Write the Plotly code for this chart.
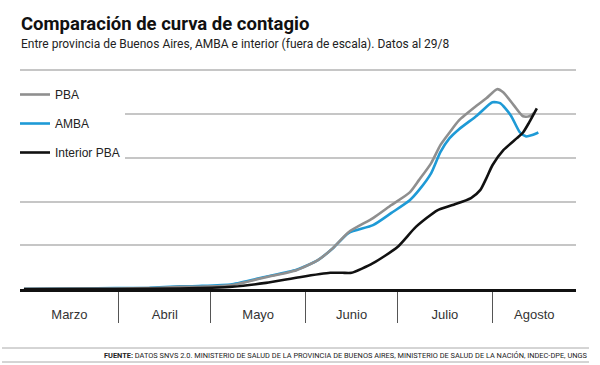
import plotly.graph_objects as go

# ---------------- data ----------------
pba_dates = ["2020-03-01", "2020-03-19", "2020-03-31", "2020-04-11", "2020-04-21", "2020-04-27",
             "2020-05-08", "2020-05-19", "2020-05-29", "2020-06-05", "2020-06-10", "2020-06-15",
             "2020-06-23", "2020-06-29", "2020-07-05", "2020-07-08", "2020-07-12", "2020-07-15",
             "2020-07-18", "2020-07-21", "2020-07-27", "2020-07-30", "2020-08-02 12:00",
             "2020-08-04 12:00", "2020-08-08", "2020-08-11", "2020-08-13", "2020-08-14 12:00"]
pba_values = [0.00, 0.01, 0.01, 0.02, 0.05, 0.05,
              0.09, 0.27, 0.43, 0.66, 0.94, 1.30,
              1.62, 1.92, 2.21, 2.49, 2.88, 3.29,
              3.58, 3.85, 4.20, 4.36, 4.57,
              4.50, 4.20, 3.95, 3.95, 4.02]

amba_dates = ["2020-03-01", "2020-03-19", "2020-03-31", "2020-04-11", "2020-04-21", "2020-04-27",
              "2020-05-08", "2020-05-19", "2020-05-29", "2020-06-05", "2020-06-10", "2020-06-15",
              "2020-06-23", "2020-06-29", "2020-07-05", "2020-07-08", "2020-07-12", "2020-07-15",
              "2020-07-18", "2020-07-21", "2020-07-27", "2020-08-01", "2020-08-03 12:00",
              "2020-08-07", "2020-08-10", "2020-08-12", "2020-08-14", "2020-08-16"]
amba_values = [0.00, 0.01, 0.02, 0.03, 0.06, 0.07,
               0.11, 0.28, 0.44, 0.66, 0.94, 1.28,
               1.46, 1.74, 2.03, 2.26, 2.65, 3.13,
               3.45, 3.65, 3.97, 4.27, 4.25,
               3.97, 3.58, 3.49, 3.52, 3.58]

interior_dates = ["2020-03-01", "2020-03-31", "2020-04-21", "2020-04-27", "2020-05-08", "2020-05-19",
                  "2020-05-30", "2020-06-09", "2020-06-13", "2020-06-16", "2020-06-23", "2020-07-01",
                  "2020-07-07", "2020-07-14", "2020-07-19", "2020-07-25", "2020-07-28", "2020-07-30",
                  "2020-08-01", "2020-08-04 12:00", "2020-08-09", "2020-08-11", "2020-08-13",
                  "2020-08-15 12:00"]
interior_values = [0.00, 0.00, 0.01, 0.02, 0.05, 0.14,
                   0.27, 0.37, 0.37, 0.37, 0.59, 0.96,
                   1.42, 1.80, 1.92, 2.08, 2.26, 2.53,
                   2.83, 3.17, 3.45, 3.58, 3.81,
                   4.13]

month_starts = ["2020-04-01", "2020-05-01", "2020-06-01", "2020-07-01", "2020-08-01"]
month_label_pos = ["2020-03-15 20:00", "2020-04-16", "2020-05-16 12:00", "2020-06-16",
                   "2020-07-16 12:00", "2020-08-14 16:00"]
month_labels = ["Marzo", "Abril", "Mayo", "Junio", "Julio", "Agosto"]
grid_values = [1, 2, 3, 4, 5]

# ---------------- layout helpers ----------------
W, H = 600, 365
ML, MR, MT, MB = 20, 24, 66, 76
PW, PH = W - ML - MR, H - MT - MB


def px_x(px):
    return (px - ML) / PW


def px_y(py):
    return (H - MB - py) / PH


TITLE_FONT = "Roboto, Lato, Liberation Sans, sans-serif"
SANS = "Liberation Sans, Arial, Helvetica, sans-serif"

fig = go.Figure()
# drawing order: AMBA underneath PBA, Interior on top; legend order kept by legendrank
series = [
    ("AMBA", amba_dates, amba_values, "#1e9ad6", 2),
    ("PBA", pba_dates, pba_values, "#8f8f8f", 1),
    ("Interior PBA", interior_dates, interior_values, "#111111", 3),
]
for name, xs, ys, col, rank in series:
    fig.add_trace(go.Scatter(
        x=xs, y=ys, name=name, mode="lines", legendgroup=name, legendrank=rank,
        line=dict(color=col, width=2.6, shape="spline", smoothing=0.6),
    ))

fig.update_layout(
    width=W, height=H,
    margin=dict(l=ML, r=MR, t=MT, b=MB),
    paper_bgcolor="white", plot_bgcolor="white",
    showlegend=True,
    legend=dict(
        x=px_x(15), y=px_y(80), xanchor="left", yanchor="top",
        bgcolor="white", borderwidth=0,
        font=dict(family=SANS, size=12, color="#222"),
        tracegroupgap=10, itemwidth=30, traceorder="grouped",
    ),
    xaxis=dict(
        type="date",
        range=["2020-02-28 17:00", "2020-08-28 07:00"],
        tickmode="array", tickvals=month_label_pos, ticktext=month_labels,
        ticks="outside", ticklen=12, tickcolor="rgba(0,0,0,0)",
        tickfont=dict(family=SANS, size=13, color="#333"),
        showgrid=False, zeroline=False,
        showline=True, linecolor="#111", linewidth=2.5,
        minor=dict(tickmode="array", tickvals=month_starts, ticks="outside",
                   ticklen=31, tickcolor="#555", tickwidth=1, showgrid=False),
        fixedrange=True,
    ),
    yaxis=dict(
        range=[0, 5.1],
        tickmode="array", tickvals=grid_values,
        showticklabels=False, ticks="",
        showgrid=True, gridcolor="#c6c6c6", gridwidth=1.5,
        zeroline=False, showline=False, fixedrange=True,
    ),
    annotations=[
        dict(text="<b>Comparación de curva de contagio</b>", xref="paper", yref="paper",
             x=px_x(19), y=px_y(24), xanchor="left", yanchor="middle", showarrow=False,
             font=dict(family=TITLE_FONT, size=18.5, color="#111")),
        dict(text="Entre provincia de Buenos Aires, AMBA e interior (fuera de escala). Datos al 29/8",
             xref="paper", yref="paper", x=px_x(19), y=px_y(44), xanchor="left", yanchor="middle",
             showarrow=False, font=dict(family=TITLE_FONT, size=12, color="#222")),
        dict(text="<b>FUENTE:</b> DATOS SNVS 2.0. MINISTERIO DE SALUD DE LA PROVINCIA DE BUENOS AIRES, "
                  "MINISTERIO DE SALUD DE LA NACIÓN, INDEC-DPE, UNGS",
             xref="paper", yref="paper", x=px_x(589), y=px_y(355), xanchor="right", yanchor="middle",
             showarrow=False, font=dict(family=TITLE_FONT, size=7.4, color="#222")),
    ],
    shapes=[
        dict(type="line", xref="paper", yref="paper", x0=px_x(2), x1=px_x(589),
             y0=px_y(348), y1=px_y(348), line=dict(color="#aaa", width=1)),
        dict(type="line", xref="paper", yref="paper", x0=px_x(2), x1=px_x(589),
             y0=px_y(362), y1=px_y(362), line=dict(color="#aaa", width=1)),
    ],
)

fig.write_html("out.html", post_script="document.body.style.margin='0';",
               config={"displayModeBar": False})
